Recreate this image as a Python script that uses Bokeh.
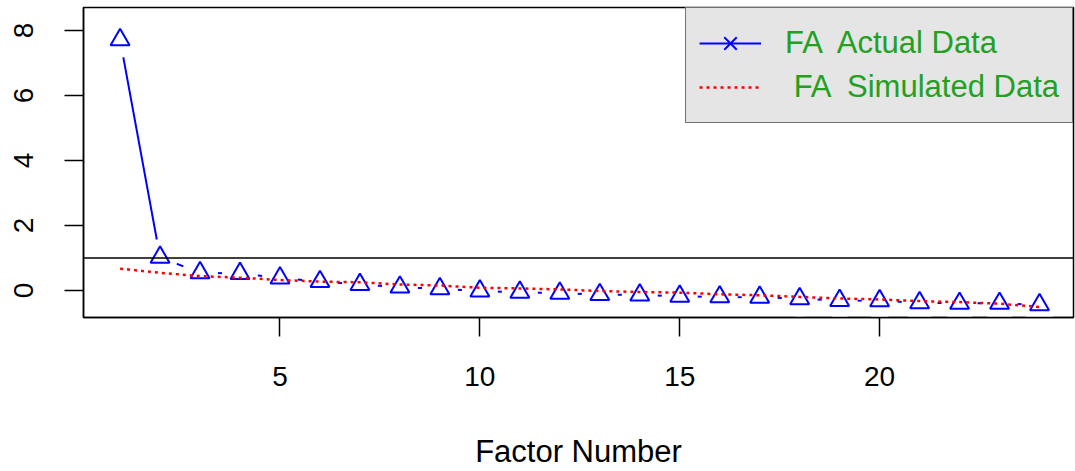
import math
from bokeh.plotting import figure
from bokeh.models import Range1d, Span, Legend, LegendItem, FixedTicker
from bokeh.core.properties import value
from bokeh.embed import file_html
from bokeh.resources import INLINE

# ---- data ----
factor_number = list(range(1, 25))
actual_data = [7.72, 1.02, 0.54, 0.52, 0.38, 0.27, 0.18, 0.10, 0.05, -0.02,
               -0.06, -0.09, -0.13, -0.14, -0.18, -0.20, -0.21, -0.26, -0.31,
               -0.32, -0.38, -0.40, -0.40, -0.44]
simulated_data = [0.67, 0.54, 0.44, 0.39, 0.32, 0.27, 0.25, 0.18, 0.15, 0.08,
                  0.06, 0.03, -0.02, -0.05, -0.07, -0.12, -0.15, -0.20, -0.25,
                  -0.28, -0.33, -0.36, -0.41, -0.51]
x_ticks = [5, 10, 15, 20]
y_ticks = [0, 2, 4, 6, 8]
legend_labels = ["FA  Actual Data", " FA  Simulated Data"]
x_label = "Factor Number"
threshold = 1

FONT = "Liberation Sans"
GREEN = "#22a022"

p = figure(width=1075, height=471,
           x_range=Range1d(0.085, 24.85), y_range=Range1d(-0.835, 8.71),
           output_backend="svg", toolbar_location=None,
           min_border_left=83, min_border_right=2, min_border_top=7,
           min_border_bottom=152)
p.grid.visible = False
p.outline_line_color = "black"
p.outline_line_width = 1.5
p.background_fill_color = "white"
p.border_fill_color = "white"

for ax, ticks in ((p.xaxis, x_ticks), (p.yaxis, y_ticks)):
    ax.ticker = FixedTicker(ticks=ticks)
    ax.minor_tick_line_color = None
    ax.major_tick_out = 19
    ax.major_tick_in = 0
    ax.major_tick_line_width = 1.5
    ax.major_tick_line_color = "black"
    ax.axis_line_color = "black"
    ax.axis_line_width = 1.5
    ax.major_label_text_font = FONT
    ax.major_label_text_font_size = "28px"
    ax.major_label_text_color = "black"

p.xaxis.major_label_standoff = 30
p.yaxis.major_label_orientation = "parallel"
p.yaxis.major_label_standoff = 31
p.xaxis.axis_label = x_label
p.xaxis.axis_label_text_font = FONT
p.xaxis.axis_label_text_font_size = "31px"
p.xaxis.axis_label_text_font_style = "normal"
p.xaxis.axis_label_text_color = "black"
p.xaxis.axis_label_standoff = 45

# actual data, type "b" style: line, gaps around points, open triangles
actual_line = p.line(factor_number, actual_data, line_color="blue", line_width=2)
# pch 4 marker used for the legend key; covered by the gap discs below
x_marks = p.scatter(factor_number, actual_data, marker="x", size=14,
                    line_color="blue", line_width=2)
p.scatter(factor_number, actual_data, marker="circle", size=36,
          fill_color="white", line_color=None)
p.scatter(factor_number, actual_data, marker="triangle", size=19,
          fill_color=None, line_color="blue", line_width=2)
sim_line = p.line(factor_number, simulated_data, line_color="red",
                  line_width=2.5, line_dash="3 4")

p.add_layout(Span(location=threshold, dimension="width",
                  line_color="black", line_width=1.5))

legend = Legend(items=[
    LegendItem(label=value(legend_labels[0]), renderers=[actual_line, x_marks]),
    LegendItem(label=value(legend_labels[1]), renderers=[sim_line]),
], location="top_right", margin=0, padding=13, spacing=0,
    glyph_width=62, glyph_height=44, label_height=44, label_standoff=24,
    label_text_font=FONT, label_text_font_size="31px",
    label_text_color=GREEN, background_fill_color="#e5e5e5",
    background_fill_alpha=1.0, border_line_color="black",
    border_line_width=1.5)
p.add_layout(legend)

open("out.html", "w").write(file_html(p, INLINE))
